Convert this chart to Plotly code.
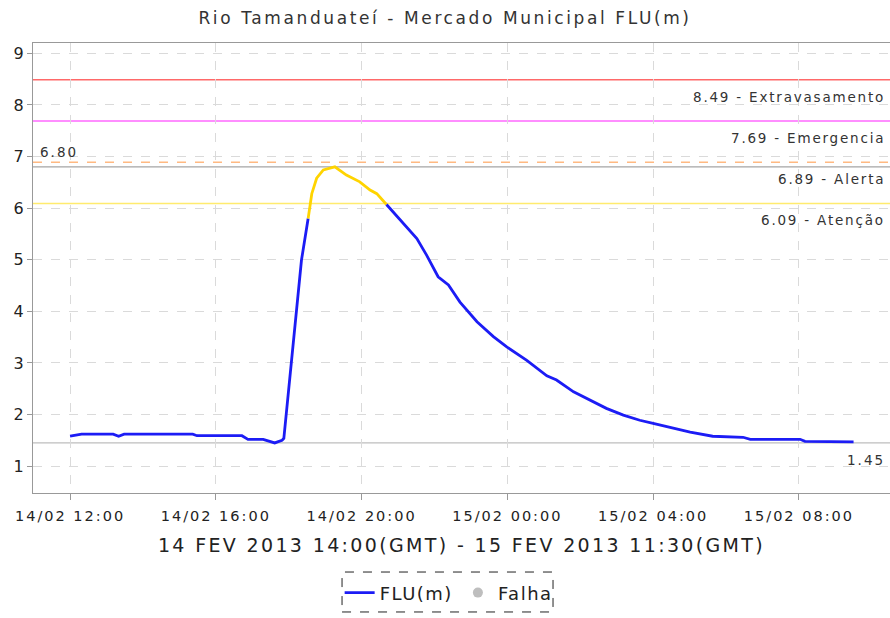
import plotly.graph_objects as go

# ---------------- data ----------------
times = [
    "2013-02-14 12:00", "2013-02-14 12:19", "2013-02-14 13:11", "2013-02-14 13:20",
    "2013-02-14 13:29", "2013-02-14 15:22", "2013-02-14 15:29", "2013-02-14 16:43",
    "2013-02-14 16:53", "2013-02-14 17:18", "2013-02-14 17:37", "2013-02-14 17:49",
    "2013-02-14 17:52", "2013-02-14 18:05", "2013-02-14 18:13", "2013-02-14 18:21",
    "2013-02-14 18:32", "2013-02-14 18:38", "2013-02-14 18:46", "2013-02-14 18:57",
    "2013-02-14 19:16", "2013-02-14 19:35", "2013-02-14 19:57", "2013-02-14 20:14",
    "2013-02-14 20:25", "2013-02-14 20:41", "2013-02-14 21:08", "2013-02-14 21:31",
    "2013-02-14 21:47", "2013-02-14 22:06", "2013-02-14 22:23", "2013-02-14 22:42",
    "2013-02-14 23:10", "2013-02-14 23:37", "2013-02-14 23:59", "2013-02-15 00:32",
    "2013-02-15 01:05", "2013-02-15 01:21", "2013-02-15 01:49", "2013-02-15 02:16",
    "2013-02-15 02:43", "2013-02-15 03:11", "2013-02-15 03:38", "2013-02-15 04:00",
    "2013-02-15 04:33", "2013-02-15 05:01", "2013-02-15 05:38", "2013-02-15 06:28",
    "2013-02-15 06:40", "2013-02-15 08:02", "2013-02-15 08:10", "2013-02-15 09:30",
]
flu = [
    1.58, 1.62, 1.62, 1.58,
    1.62, 1.62, 1.59, 1.59,
    1.52, 1.52, 1.45, 1.50,
    1.54, 3.12, 4.09, 4.99,
    5.80, 6.28, 6.58, 6.74,
    6.80, 6.64, 6.51, 6.35,
    6.28, 6.07, 5.71, 5.41,
    5.09, 4.67, 4.51, 4.18,
    3.80, 3.51, 3.31, 3.05,
    2.75, 2.67, 2.44, 2.28,
    2.12, 1.99, 1.89, 1.83,
    1.73, 1.66, 1.58, 1.56,
    1.52, 1.52, 1.48, 1.47,
]

threshold_values = [8.49, 7.69, 6.89, 6.09]
threshold_names = ["Extravasamento", "Emergencia", "Alerta", "Atenção"]
max_value = 6.80
min_value = 1.45

x_tick_vals = ["2013-02-14 12:00", "2013-02-14 16:00", "2013-02-14 20:00",
               "2013-02-15 00:00", "2013-02-15 04:00", "2013-02-15 08:00"]
x_tick_text = ["14/02 12:00", "14/02 16:00", "14/02 20:00",
               "15/02 00:00", "15/02 04:00", "15/02 08:00"]
y_tick_vals = [1, 2, 3, 4, 5, 6, 7, 8, 9]

title_text = "Rio Tamanduateí - Mercado Municipal FLU(m)"
x_title = "14 FEV 2013 14:00(GMT) - 15 FEV 2013 11:30(GMT)"

# ---------------- styles ----------------
BLUE = "rgb(28,28,245)"
YELLOW = "rgb(255,212,0)"
threshold_colors = ["rgb(255,105,105)", "rgb(255,105,255)", "rgb(255,185,130)", "rgb(255,235,110)"]
threshold_dash = ["solid", "solid", "dash", "solid"]
FONT = "DejaVu Sans"


def spaced(t, px):
    return f'<span style="letter-spacing:{px}px">{t}</span>'


fig = go.Figure()

# split line into colored segments (yellow when above Atenção level)
att = threshold_values[3]
seg_colors = [YELLOW if (flu[i] >= att or flu[i + 1] >= att) else BLUE for i in range(len(flu) - 1)]
groups = []
start = 0
for i in range(1, len(seg_colors) + 1):
    if i == len(seg_colors) or seg_colors[i] != seg_colors[start]:
        groups.append((start, i, seg_colors[start]))
        start = i
first_blue = True
for s, e, c in groups:
    show = c == BLUE and first_blue
    if show:
        first_blue = False
    fig.add_trace(go.Scatter(
        x=times[s:e + 1], y=flu[s:e + 1], mode="lines",
        line=dict(color=c, width=2.8),
        name=spaced("FLU(m)", 1.5), showlegend=show, legendrank=1, hoverinfo="x+y",
    ))

fig.add_trace(go.Scatter(
    x=[None], y=[None], mode="markers", name=spaced("Falha", 1.5),
    marker=dict(color="rgb(190,190,190)", size=10), legendrank=2,
))

# threshold lines
for v, n, c, d in zip(threshold_values, threshold_names, threshold_colors, threshold_dash):
    fig.add_hline(y=v, line=dict(color=c, width=1.5, dash=d), layer="below")
    fig.add_annotation(x=0.996, xref="paper", y=v, yref="y", text=spaced(f"{v:.2f} - {n}", 1.8),
                       showarrow=False, xanchor="right", yanchor="top", yshift=-7,
                       font=dict(family=FONT, size=13.5, color="#333"))

fig.add_hline(y=max_value, line=dict(color="rgb(165,165,165)", width=1.3), layer="below")
fig.add_annotation(x=0.006, xref="paper", y=max_value, yref="y", text=spaced(f"{max_value:.2f}", 2),
                   showarrow=False, xanchor="left", yanchor="bottom", yshift=5,
                   font=dict(family=FONT, size=13.5, color="#333"))
fig.add_hline(y=min_value, line=dict(color="rgb(190,190,190)", width=1.3), layer="below")
fig.add_annotation(x=0.996, xref="paper", y=min_value, yref="y", text=spaced(f"{min_value:.2f}", 2),
                   showarrow=False, xanchor="right", yanchor="top", yshift=-7,
                   font=dict(family=FONT, size=13.5, color="#333"))

# dashed legend frame
fig.add_shape(type="rect", xref="paper", yref="paper",
              x0=0.3606, x1=0.6068, y0=-0.2644, y1=-0.1756,
              line=dict(color="#222", width=1, dash="dash"), fillcolor="rgba(0,0,0,0)")

fig.update_layout(
    width=890, height=618,
    margin=dict(l=33, r=0, t=43, b=125),
    paper_bgcolor="white", plot_bgcolor="white",
    title=dict(text=spaced(title_text, 2.6), x=0.5, xref="container", xanchor="center", y=0.971, yanchor="middle",
               font=dict(family=FONT, size=17, color="#333")),
    showlegend=True,
    legend=dict(orientation="h", x=0.485, xanchor="center", y=-0.222, yanchor="middle",
                font=dict(family=FONT, size=18, color="#222"), bgcolor="rgba(0,0,0,0)",
                itemwidth=30, tracegroupgap=0),
    xaxis=dict(
        range=["2013-02-14 10:59", "2013-02-15 10:30"],
        tickvals=x_tick_vals, ticktext=[spaced(t, 2) for t in x_tick_text],
        showline=True, linecolor="#999", linewidth=1.2, mirror=True,
        ticks="outside", ticklen=6, tickcolor="#999", ticklabelstandoff=3,
        showgrid=True, gridcolor="#dadada", griddash="dash", gridwidth=1,
        zeroline=False,
        tickfont=dict(family=FONT, size=14.5, color="#222"),
        title=dict(text=spaced(x_title, 2.35), font=dict(family=FONT, size=19, color="#222"), standoff=16),
    ),
    yaxis=dict(
        range=[0.48, 9.2],
        tickvals=y_tick_vals,
        showline=True, linecolor="#999", linewidth=1.2,
        ticks="outside", ticklen=5, tickcolor="#999",
        showgrid=True, gridcolor="#dadada", griddash="dash", gridwidth=1,
        zeroline=False,
        tickfont=dict(family=FONT, size=16, color="#222"),
    ),
)

fig.write_html("out.html", config={"displayModeBar": False},
               post_script="document.body.style.margin='0';")
